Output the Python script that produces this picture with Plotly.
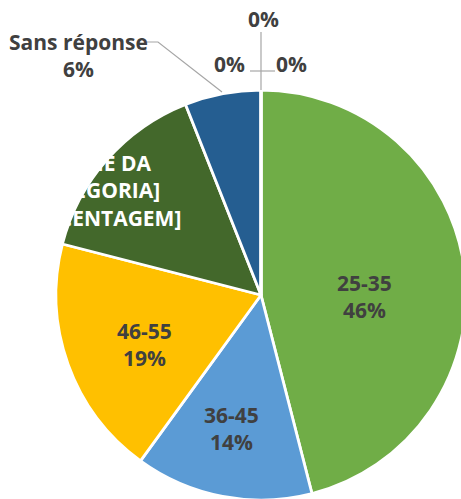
import plotly.graph_objects as go

# ---- data ----
categories = ["25-35", "36-45", "46-55", "[NOME DA CATEGORIA]", "Sans réponse", "18-24", "56-65", "66+"]
values = [46, 14, 19, 15, 6, 0, 0, 0]
colors = ["#70AD47", "#5B9BD5", "#FFC000", "#43682B", "#255E91", "#A5A5A5", "#264478", "#9E480E"]

W, H = 472, 506  # slightly larger than the window; the overflow is cropped like the reference
total = sum(values)
pct = [f"{round(100 * v / total)}%" for v in values]

# pie geometry (pixels)
left_px, top_px, size_px = 56, 90, 410


def px(x, y):
    return x / W, 1 - y / H


fig = go.Figure(
    go.Pie(
        labels=categories,
        values=values,
        sort=False,
        direction="clockwise",
        rotation=0,
        marker=dict(colors=colors, line=dict(color="white", width=2.8)),
        textinfo="none",
        hoverinfo="skip",
        showlegend=False,
        domain=dict(x=[left_px / W, (left_px + size_px) / W],
                    y=[1 - (top_px + size_px) / H, 1 - top_px / H]),
    )
)

# label placement (pixel centres) - layout only
label_pos = {
    0: (364, 296),
    1: (231, 428),
    2: (144, 344),
    3: (97, 190),
    4: (78, 55),
    5: (229, 64),
    6: (263, 19),
    7: (291, 64),
}
label_color = {3: "white"}

annotations = []
for i, cat in enumerate(categories):
    if values[i] == 0:
        text = pct[i]
    elif i == 3:
        text = "[NOME DA<br>CATEGORIA]<br>[PERCENTAGEM]"
    else:
        text = f"{cat}<br>{pct[i]}"
    x, y = px(*label_pos[i])
    annotations.append(dict(
        x=x, y=y, xref="paper", yref="paper", text=text, showarrow=False,
        xanchor="center", yanchor="middle", align="center",
        font=dict(family="Open Sans", size=21, color=label_color.get(i, "#404040"), weight="bold"),
    ))

line_style = dict(color="#A6A6A6", width=1.2)
shapes = []


def seg(points):
    d = "M " + " L ".join(f"{px(a, b)[0]},{px(a, b)[1]}" for a, b in points)
    shapes.append(dict(type="path", path=d, xref="paper", yref="paper", line=line_style))


seg([(147, 42), (158, 42), (222, 92)])
seg([(261, 32), (261, 90)])
seg([(250, 71), (275, 71)])

fig.update_layout(
    width=W, height=H,
    margin=dict(l=0, r=0, t=0, b=0),
    paper_bgcolor="white",
    annotations=annotations,
    shapes=shapes,
)

fig.write_html(
    "out.html",
    config={"displayModeBar": False},
    post_script="document.body.style.margin='0';document.body.style.overflow='hidden';",
)
